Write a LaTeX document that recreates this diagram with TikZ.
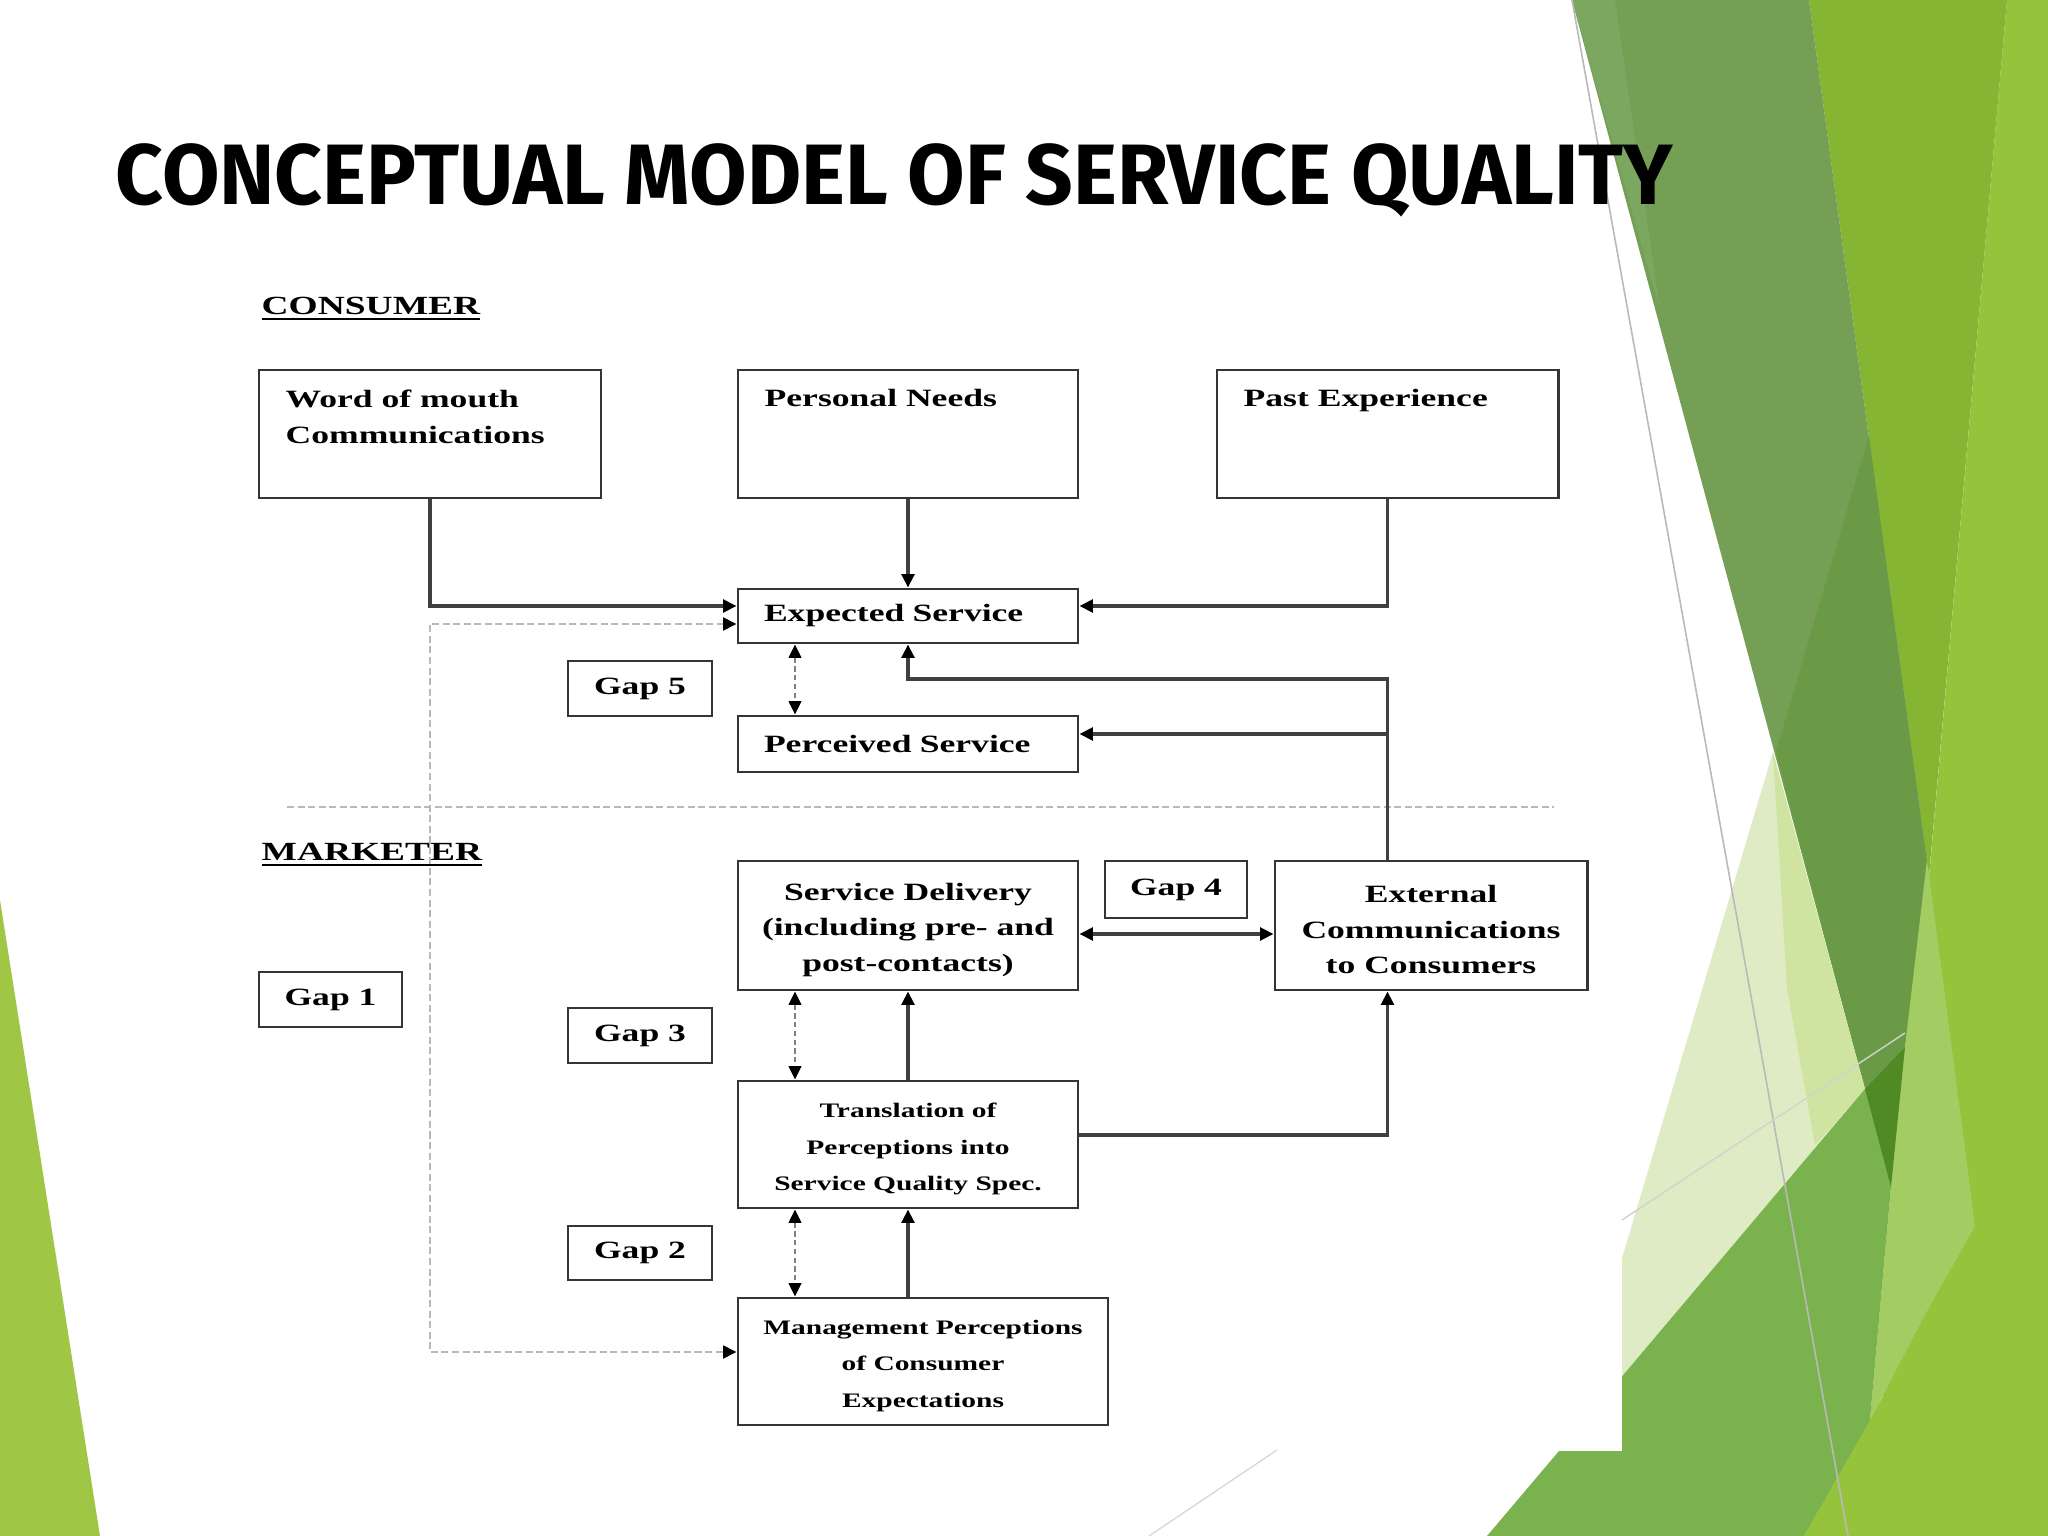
\documentclass[tikz,border=0pt]{standalone}
\usepackage{fontspec}
\usetikzlibrary{arrows.meta}
\newfontfamily\titlefam[FakeStretch=0.972]{Fira Sans}
\newfontfamily\dfam[FakeStretch=1.43]{Liberation Serif}
\newcommand{\fdiag}{\dfam\bfseries\fontsize{7.08}{10.4}\selectfont}
\newcommand{\fdiagc}{\dfam\bfseries\fontsize{7.08}{10.1}\selectfont}
\newcommand{\fsmall}{\dfam\bfseries\fontsize{5.86}{10.4}\selectfont}
\newcommand{\flabel}{\dfam\bfseries\fontsize{7.45}{10.4}\selectfont}
\definecolor{cLime}{HTML}{95C43C}
\definecolor{cBright}{HTML}{86B534}
\definecolor{cMuted}{HTML}{749F54}
\definecolor{cMutedL}{HTML}{7BA761}
\definecolor{cMutedD}{HTML}{6A9A45}
\definecolor{cPaleLime}{HTML}{A3CC62}
\definecolor{cPale}{HTML}{DFEBC4}
\definecolor{cPaleB}{HTML}{D0E4A2}
\definecolor{cMedium}{HTML}{7AB24E}
\definecolor{cDark}{HTML}{4F8A24}
\definecolor{cLeft}{HTML}{9FC745}
\definecolor{boxc}{HTML}{353535}
\definecolor{connc}{HTML}{404040}
\begin{document}
\begin{tikzpicture}[x=1cm,y=-1cm,
  box/.style={draw=boxc, line width=0.85pt, rectangle, inner sep=0pt, fill=white, text=black},
  txt/.style={inner sep=0pt, text=black, font=\fdiag},
  conn/.style={draw=connc, line width=0.9pt},
  arr/.style={-{Triangle[length=3.8pt,width=3.6pt,color=black]}},
  darr/.style={{Triangle[length=3.8pt,width=3.6pt,color=black]}-{Triangle[length=3.8pt,width=3.6pt,color=black]}},
  gapdash/.style={draw=gray, line width=0.45pt, dash pattern=on 1.5pt off 1pt},
  gap1line/.style={draw=gray!55, line width=0.8pt, dash pattern=on 2pt off 1pt},
  gapbox/.style={box, minimum width=1.44cm, minimum height=0.55cm, font=\fdiag}
]
\useasboundingbox (0,0) rectangle (20.48,15.36);
\fill[white] (0,0) rectangle (20.48,15.36);
% background decoration
\fill[cLime] (20.07,0) -- (20.48,0) -- (20.48,15.36) -- (18.04,15.36) -- (18.83,13.96) -- cycle;
\fill[cBright] (18.09,0) -- (20.07,0) -- (19.29,8.76) -- cycle;
\fill[cMuted] (15.72,0) -- (18.09,0) -- (19.29,8.76) -- (19.05,10.47) -- (18.65,10.89) -- cycle;
\fill[cMutedL] (15.72,0) -- (16.15,0) -- (16.60,3.10) -- cycle;
\fill[cMutedD] (18.69,4.36) -- (19.29,8.76) -- (19.05,10.47) -- (18.65,10.89) -- (17.76,7.52) -- cycle;
\fill[cPaleLime] (19.27,8.60) -- (19.44,9.88) -- (19.75,12.26) -- (19.26,13.13) -- (18.70,14.20) -- (18.91,11.87) -- (19.05,10.47) -- cycle;
\fill[cPale] (17.73,7.52) -- (18.65,10.89) -- (15.63,14.56) -- cycle;
\fill[cPaleB] (17.73,7.52) -- (18.65,10.89) -- (18.15,11.45) -- (17.87,9.88) -- cycle;
\fill[cMedium] (18.65,10.89) -- (19.05,10.47) -- (18.91,11.87) -- (18.70,14.20) -- (18.04,15.36) -- (14.87,15.36) -- (15.59,14.51) -- cycle;
\fill[cDark] (18.65,10.89) -- (19.05,10.47) -- (18.91,11.87) -- cycle;
\fill[cLeft] (0,9.0) -- (1.0,15.36) -- (0,15.36) -- cycle;
\fill[white] (1.15,2.80) rectangle (16.22,14.51);
\draw[gray!55, line width=0.45pt] (15.72,0) -- (18.48,15.36);
\draw[gray!35, line width=0.4pt] (16.22,12.20) -- (19.05,10.33);
\draw[gray!30, line width=0.4pt] (11.49,15.36) -- (12.77,14.50);

% title
\node[anchor=base west, inner sep=0pt, text=black, font=\titlefam\bfseries\fontsize{24.4}{28}\selectfont] (title) at (1.15,2.05) {CONCEPTUAL MODEL OF SERVICE QUALITY};

% section labels
\node[anchor=west, inner sep=0pt, font=\flabel] (consumer) at (2.61,3.09) {\underline{CONSUMER}};
\node[anchor=west, inner sep=0pt, font=\flabel] (marketer) at (2.61,8.55) {\underline{MARKETER}};
\draw[draw=gray!55, line width=0.6pt, dash pattern=on 2pt off 1pt] (2.87,8.07) -- (15.54,8.07);

% top boxes
\node[box, minimum width=3.42cm, minimum height=1.28cm] (wom) at (4.30,4.34) {};
\node[box, minimum width=3.40cm, minimum height=1.28cm] (pn) at (9.08,4.34) {};
\node[box, minimum width=3.41cm, minimum height=1.28cm] (pe) at (13.875,4.34) {};
\node[txt, anchor=north west, align=left] (womt) at (2.85,3.89) {Word of mouth\\Communications};
\node[txt, anchor=north west, align=left] (pnt) at (7.64,3.89) {Personal Needs};
\node[txt, anchor=north west, align=left] (pet) at (12.43,3.89) {Past Experience};

% consumer side
\node[box, font=\fdiag, minimum width=3.40cm, minimum height=0.54cm, text width=2.88cm, inner xsep=0.26cm, align=left] (es) at (9.08,6.16) {Expected Service};
\node[box, font=\fdiag, minimum width=3.40cm, minimum height=0.56cm, text width=2.88cm, inner xsep=0.26cm, align=left] (ps) at (9.08,7.44) {Perceived Service};
\node[gapbox] (g5) at (6.40,6.885) {Gap 5};

% marketer side
\node[box, minimum width=3.40cm, minimum height=1.29cm] (sd) at (9.08,9.255) {};
\node[txt, font=\fdiagc, align=center] (sdt) at ([yshift=-0.045cm]sd.center) {Service Delivery\\(including pre- and\\post-contacts)};
\node[gapbox, minimum width=1.42cm, minimum height=0.57cm] (g4) at (11.76,8.895) {Gap 4};
\node[box, minimum width=3.12cm, minimum height=1.29cm] (ec) at (14.31,9.255) {};
\node[txt, font=\fdiagc, align=center] (ect) at ([yshift=-0.045cm]ec.center) {External\\Communications\\to Consumers};
\node[gapbox, minimum width=1.43cm] (g1) at (3.305,9.995) {Gap 1};
\node[gapbox] (g3) at (6.40,10.355) {Gap 3};
\node[box, minimum width=3.40cm, minimum height=1.27cm] (tr) at (9.08,11.445) {};
\node[txt, font=\fsmall, align=center] (trt) at ([yshift=-0.045cm]tr.center) {Translation of\\Perceptions into\\Service Quality Spec.};
\node[gapbox, minimum height=0.54cm] (g2) at (6.40,12.53) {Gap 2};
\node[box, minimum width=3.70cm, minimum height=1.27cm] (mp) at (9.23,13.615) {};
\node[txt, font=\fsmall, align=center] (mpt) at ([yshift=-0.045cm]mp.center) {Management Perceptions\\of Consumer\\Expectations};

% helper coordinates
\coordinate (gx) at (7.95,0);
\coordinate (j1) at (13.875,6.79);
\coordinate (j2) at (13.875,7.34);
\coordinate (g1a) at (4.30,6.24);
\coordinate (g1b) at (4.30,13.52);

% connectors
\draw[conn, arr] (wom.south) |- ([yshift=0.10cm]es.west);
\draw[conn, arr] (pn.south) -- (es.north);
\draw[conn, arr] (pe.south) |- ([yshift=0.10cm]es.east);
\draw[gap1line, darr] (es.west |- g1a) -- (g1a) -- (g1b) -- (mp.west |- g1b);
\draw[gapdash, darr] (es.south -| gx) -- (ps.north -| gx);
\draw[conn, arr] (ec.north -| j1) -- (j1) -| (es.south);
\draw[conn, arr] (j2) -- (ps.east |- j2);
\draw[conn, darr] ([yshift=-0.085cm]sd.east) -- ([yshift=-0.085cm]ec.west);
\draw[conn, arr] (tr.north) -- (sd.south);
\draw[gapdash, darr] (sd.south -| gx) -- (tr.north -| gx);
\draw[conn, arr] ([yshift=0.095cm]tr.east) -| (ec.south -| j1);
\draw[conn, arr] (mp.north -| tr.south) -- (tr.south);
\draw[gapdash, darr] (tr.south -| gx) -- (mp.north -| gx);
\end{tikzpicture}
\end{document}
